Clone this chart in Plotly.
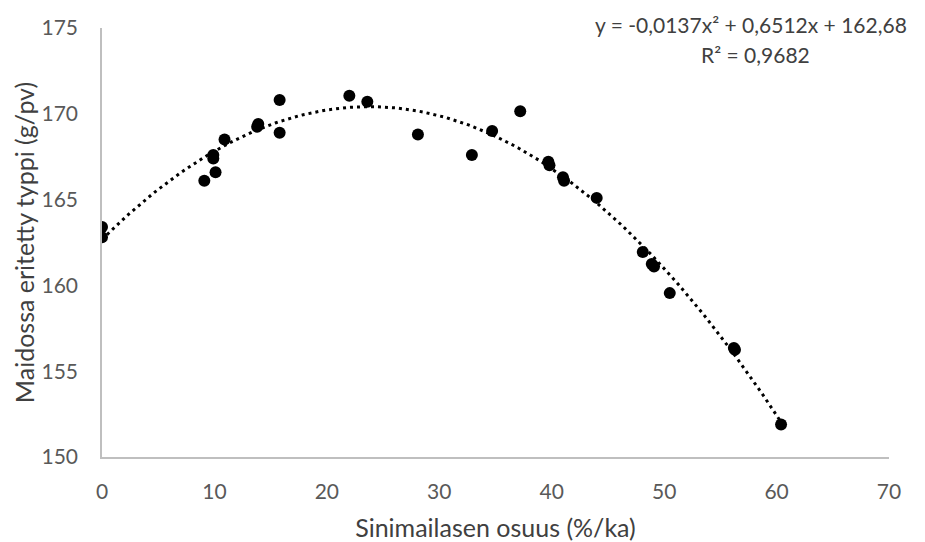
import numpy as np
import plotly.graph_objects as go

# Data
alfalfa_share = [0, 0, 9.1, 10.1, 9.9, 9.9, 10.9, 13.8, 13.9, 15.8, 15.8,
                 22.0, 23.6, 28.1, 32.9, 34.7, 37.2, 39.8, 39.7, 41.1, 41.0,
                 44.0, 48.1, 49.1, 48.9, 50.5, 56.3, 56.2, 60.4]
milk_nitrogen = [163.4, 162.8, 166.1, 166.6, 167.4, 167.6, 168.5, 169.25, 169.4, 170.8, 168.9,
                 171.05, 170.7, 168.8, 167.6, 169.0, 170.15, 167.0, 167.2, 166.1, 166.3,
                 165.1, 161.95, 161.1, 161.25, 159.55, 156.25, 156.35, 151.9]

# Trendline coefficients shown in the chart's equation label
coef_a, coef_b, coef_c = -0.0137, 0.6512, 162.68
trend_x_start, trend_x_end = 0.0, 60.4

x_ticks = [0, 10, 20, 30, 40, 50, 60, 70]
y_ticks = [150, 155, 160, 165, 170, 175]

equation_text = "y = -0,0137x² + 0,6512x + 162,68"
r2_text = "R² = 0,9682"

trend_x = np.linspace(trend_x_start, trend_x_end, 200)
trend_y = coef_a * trend_x ** 2 + coef_b * trend_x + coef_c

FONT = "Lato"

fig = go.Figure()
fig.add_trace(go.Scatter(
    x=trend_x, y=trend_y, mode="lines",
    line=dict(color="black", width=3, dash="3px,4px"),
    hoverinfo="skip", showlegend=False,
))
fig.add_trace(go.Scatter(
    x=alfalfa_share, y=milk_nitrogen, mode="markers",
    marker=dict(color="black", size=12, line=dict(width=0)),
    showlegend=False,
))

# The page body adds an 8px offset, so the figure is 8px smaller on each axis
fig.update_layout(
    width=917, height=534,
    margin=dict(l=94, r=36, t=20, b=85),
    plot_bgcolor="white", paper_bgcolor="white",
    font=dict(family=FONT, color="#595959", size=21),
    xaxis=dict(
        range=[0, 70], tickvals=x_ticks, showgrid=False, zeroline=False,
        showline=True, linecolor="#bfbfbf", linewidth=1.5, automargin=False,
        ticks="outside", ticklen=15, tickcolor="rgba(0,0,0,0)",
        tickfont=dict(family=FONT, size=21, color="#595959"),
        title=dict(text="Sinimailasen osuus (%/ka)", standoff=29,
                   font=dict(family=FONT, size=25, color="#404040")),
    ),
    yaxis=dict(
        range=[150, 175], tickvals=y_ticks, showgrid=False, zeroline=False,
        showline=True, linecolor="#bfbfbf", linewidth=1.5, automargin=False,
        ticks="outside", ticklen=18, tickcolor="rgba(0,0,0,0)",
        tickfont=dict(family=FONT, size=21, color="#595959"),
        title=dict(text="Maidossa eritetty typpi (g/pv)", standoff=0,
                   font=dict(family=FONT, size=25, color="#404040")),
    ),
    annotations=[
        dict(xref="paper", yref="paper", x=1.025, y=1.009,
             xanchor="right", yanchor="middle", showarrow=False,
             text=equation_text,
             font=dict(family=FONT, size=21, color="#404040")),
        dict(xref="paper", yref="paper", x=0.83, y=0.939,
             xanchor="center", yanchor="middle", showarrow=False,
             text=r2_text,
             font=dict(family=FONT, size=21, color="#404040")),
    ],
)

fig.write_html("out.html")
